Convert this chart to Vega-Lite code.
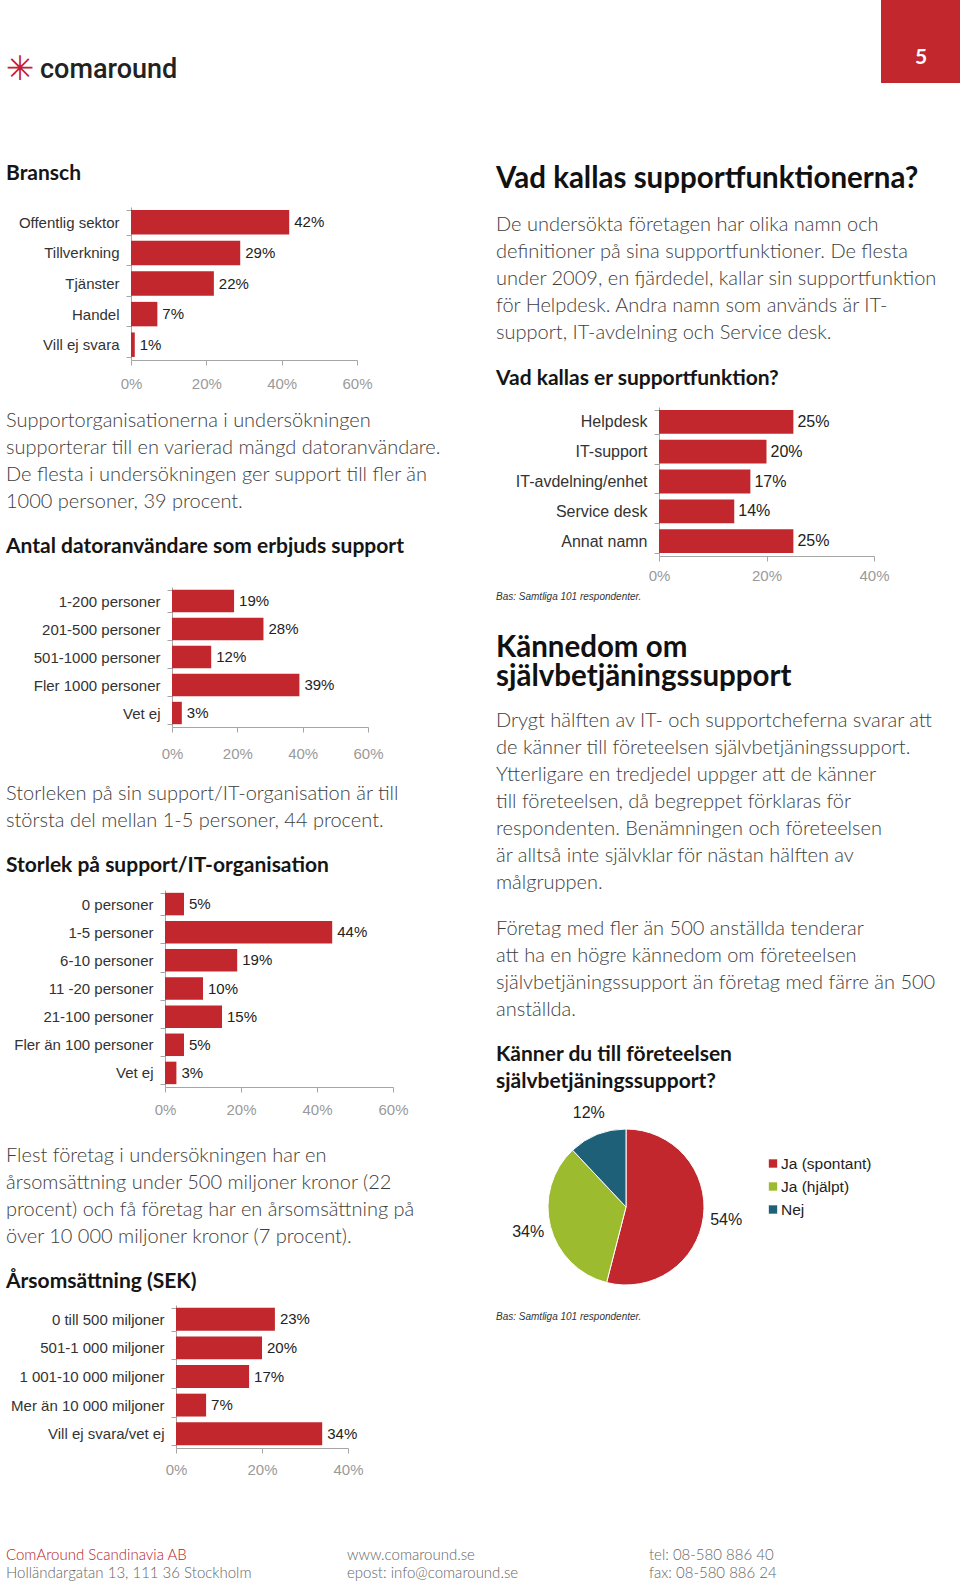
{
  "$schema": "https://vega.github.io/schema/vega-lite/v6.json",
  "padding": {"left": 5, "top": 0, "right": 0, "bottom": 0},
  "background": "white",
  "config": {
    "view": {"stroke": null},
    "axis": {"grid": false, "labelFont": "Liberation Sans", "domainColor": "#a6a6a6", "tickColor": "#a6a6a6", "tickSize": 5, "labelOverlap": false},
    "axisX": {"labelColor": "#9a9a9a", "labelFontSize": 15, "labelFlush": false, "format": ".0%"},
    "axisY": {"labelColor": "#333333", "labelFontSize": 15, "tickBand": "extent", "labelPadding": 7, "labelLimit": 400},
    "bar": {"color": "#C1272D"},
    "text": {"font": "Liberation Sans", "fontSize": 15, "color": "#222222"},
    "title": {"anchor": "start", "frame": "group", "orient": "bottom", "offset": 0}
  },
  "datasets": {
    "tom": [{}],
    "bransch": [
      {"kategori": "Offentlig sektor", "andel": 0.42},
      {"kategori": "Tillverkning", "andel": 0.29},
      {"kategori": "Tjänster", "andel": 0.22},
      {"kategori": "Handel", "andel": 0.07},
      {"kategori": "Vill ej svara", "andel": 0.01}
    ],
    "datoranvandare": [
      {"kategori": "1-200 personer", "andel": 0.19},
      {"kategori": "201-500 personer", "andel": 0.28},
      {"kategori": "501-1000 personer", "andel": 0.12},
      {"kategori": "Fler 1000 personer", "andel": 0.39},
      {"kategori": "Vet ej", "andel": 0.03}
    ],
    "storlek": [
      {"kategori": "0 personer", "andel": 0.05},
      {"kategori": "1-5 personer", "andel": 0.44},
      {"kategori": "6-10 personer", "andel": 0.19},
      {"kategori": "11 -20 personer", "andel": 0.10},
      {"kategori": "21-100 personer", "andel": 0.15},
      {"kategori": "Fler än 100 personer", "andel": 0.05},
      {"kategori": "Vet ej", "andel": 0.03}
    ],
    "omsattning": [
      {"kategori": "0 till 500 miljoner", "andel": 0.23},
      {"kategori": "501-1 000 miljoner", "andel": 0.20},
      {"kategori": "1 001-10 000 miljoner", "andel": 0.17},
      {"kategori": "Mer än 10 000 miljoner", "andel": 0.07},
      {"kategori": "Vill ej svara/vet ej", "andel": 0.34}
    ],
    "namn": [
      {"kategori": "Helpdesk", "andel": 0.25},
      {"kategori": "IT-support", "andel": 0.20},
      {"kategori": "IT-avdelning/enhet", "andel": 0.17},
      {"kategori": "Service desk", "andel": 0.14},
      {"kategori": "Annat namn", "andel": 0.25}
    ],
    "kannedom": [
      {"svar": "Ja (spontant)", "andel": 0.54, "ordning": 1},
      {"svar": "Ja (hjälpt)", "andel": 0.34, "ordning": 2},
      {"svar": "Nej", "andel": 0.12, "ordning": 3}
    ],
    "logo": [{"ikon": "✳", "namn": "comaround", "sida": "5"}]
  },
  "spacing": 0,
  "vconcat": [
    {
      "bounds": "flush",
      "spacing": 847,
      "hconcat": [
        {
          "width": 28, "height": 140,
          "data": {"name": "logo"},
          "layer": [
            {"mark": {"type": "text", "color": "#C8202E", "fontSize": 34, "font": "DejaVu Sans"}, "encoding": {"text": {"field": "ikon"}}},
            {"mark": {"type": "text", "align": "left", "dx": 20, "color": "#222222", "fontSize": 27, "font": "Roboto", "fontWeight": 500}, "encoding": {"text": {"field": "namn"}}}
          ]
        },
        {
          "width": 80, "height": 83,
          "view": {"fill": "#C1272D"},
          "data": {"name": "logo"},
          "mark": {"type": "text", "color": "white", "fontSize": 21, "font": "Lato", "fontWeight": "bold", "dy": 16},
          "encoding": {"text": {"field": "sida"}}
        }
      ]
    },
    {
      "spacing": 45,
      "hconcat": [
        {
          "spacing": 0,
          "vconcat": [
            {"width": 445, "height": 19, "data": {"name": "tom"}, "mark": {"type": "rect", "opacity": 0},
             "title": {"text": "Bransch", "font": "Lato", "fontSize": 21, "fontWeight": "bold", "color": "#151515"}},
            {"width": 1, "height": 16, "data": {"name": "tom"}, "mark": {"type": "rect", "opacity": 0}},
            {
              "bounds": "flush", "spacing": 0,
              "hconcat": [
                {"width": 125, "height": 1, "data": {"name": "tom"}, "mark": {"type": "rect", "opacity": 0}},
                {
                  "width": 226, "height": 153,
                  "data": {"name": "bransch"},
                  "encoding": {
                    "y": {"field": "kategori", "type": "nominal", "sort": null, "title": null, "scale": {"paddingInner": 0.2, "paddingOuter": 0.1}},
                    "x": {"field": "andel", "type": "quantitative", "title": null, "scale": {"domain": [0, 0.6]}, "axis": {"values": [0, 0.2, 0.4, 0.6], "labelPadding": 11}}
                  },
                  "layer": [
                    {"mark": {"type": "bar"}},
                    {"mark": {"type": "text", "align": "left", "dx": 5}, "encoding": {"text": {"field": "andel", "type": "quantitative", "format": ".0%"}}}
                  ]
                }
              ]
            },
            {"width": 445, "height": 16, "data": {"name": "tom"}, "mark": {"type": "rect", "opacity": 0},
             "title": {
               "text": ["Supportorganisationerna i undersökningen", "supporterar till en varierad mängd datoranvändare.", "De flesta i undersökningen ger support till fler än", "1000 personer, 39 procent."],
               "subtitle": "Antal datoranvändare som erbjuds support",
               "font": "Lato", "fontSize": 20, "fontWeight": 300, "color": "#3d3d3d", "lineHeight": 27,
               "subtitleFont": "Lato", "subtitleFontSize": 21, "subtitleFontWeight": "bold", "subtitleColor": "#151515", "subtitlePadding": 24}},
            {"width": 1, "height": 23, "data": {"name": "tom"}, "mark": {"type": "rect", "opacity": 0}},
            {
              "bounds": "flush", "spacing": 0,
              "hconcat": [
                {"width": 166, "height": 1, "data": {"name": "tom"}, "mark": {"type": "rect", "opacity": 0}},
                {
                  "width": 196, "height": 140,
                  "data": {"name": "datoranvandare"},
                  "encoding": {
                    "y": {"field": "kategori", "type": "nominal", "sort": null, "title": null, "scale": {"paddingInner": 0.2, "paddingOuter": 0.1}},
                    "x": {"field": "andel", "type": "quantitative", "title": null, "scale": {"domain": [0, 0.6]}, "axis": {"values": [0, 0.2, 0.4, 0.6], "labelPadding": 14}}
                  },
                  "layer": [
                    {"mark": {"type": "bar"}},
                    {"mark": {"type": "text", "align": "left", "dx": 5}, "encoding": {"text": {"field": "andel", "type": "quantitative", "format": ".0%"}}}
                  ]
                }
              ]
            },
            {"width": 445, "height": 19, "data": {"name": "tom"}, "mark": {"type": "rect", "opacity": 0},
             "title": {
               "text": ["Storleken på sin support/IT-organisation är till", "största del mellan 1-5 personer, 44 procent."],
               "subtitle": "Storlek på support/IT-organisation",
               "font": "Lato", "fontSize": 20, "fontWeight": 300, "color": "#3d3d3d", "lineHeight": 27,
               "subtitleFont": "Lato", "subtitleFontSize": 21, "subtitleFontWeight": "bold", "subtitleColor": "#151515", "subtitlePadding": 24}},
            {"width": 1, "height": 7, "data": {"name": "tom"}, "mark": {"type": "rect", "opacity": 0}},
            {
              "bounds": "flush", "spacing": 0,
              "hconcat": [
                {"width": 159, "height": 1, "data": {"name": "tom"}, "mark": {"type": "rect", "opacity": 0}},
                {
                  "width": 228, "height": 197,
                  "data": {"name": "storlek"},
                  "encoding": {
                    "y": {"field": "kategori", "type": "nominal", "sort": null, "title": null, "scale": {"paddingInner": 0.2, "paddingOuter": 0.1}},
                    "x": {"field": "andel", "type": "quantitative", "title": null, "scale": {"domain": [0, 0.6]}, "axis": {"values": [0, 0.2, 0.4, 0.6], "labelPadding": 10}}
                  },
                  "layer": [
                    {"mark": {"type": "bar"}},
                    {"mark": {"type": "text", "align": "left", "dx": 5}, "encoding": {"text": {"field": "andel", "type": "quantitative", "format": ".0%"}}}
                  ]
                }
              ]
            },
            {"width": 445, "height": 25, "data": {"name": "tom"}, "mark": {"type": "rect", "opacity": 0},
             "title": {
               "text": ["Flest företag i undersökningen har en", "årsomsättning under 500 miljoner kronor (22", "procent) och få företag har en årsomsättning på", "över 10 000 miljoner kronor (7 procent)."],
               "subtitle": "Årsomsättning (SEK)",
               "font": "Lato", "fontSize": 20, "fontWeight": 300, "color": "#3d3d3d", "lineHeight": 27,
               "subtitleFont": "Lato", "subtitleFontSize": 21, "subtitleFontWeight": "bold", "subtitleColor": "#151515", "subtitlePadding": 24}},
            {"width": 1, "height": 6, "data": {"name": "tom"}, "mark": {"type": "rect", "opacity": 0}},
            {
              "bounds": "flush", "spacing": 0,
              "hconcat": [
                {"width": 170, "height": 1, "data": {"name": "tom"}, "mark": {"type": "rect", "opacity": 0}},
                {
                  "width": 172, "height": 143,
                  "data": {"name": "omsattning"},
                  "encoding": {
                    "y": {"field": "kategori", "type": "nominal", "sort": null, "title": null, "scale": {"paddingInner": 0.2, "paddingOuter": 0.1}},
                    "x": {"field": "andel", "type": "quantitative", "title": null, "scale": {"domain": [0, 0.4]}, "axis": {"values": [0, 0.2, 0.4], "labelPadding": 9}}
                  },
                  "layer": [
                    {"mark": {"type": "bar"}},
                    {"mark": {"type": "text", "align": "left", "dx": 5}, "encoding": {"text": {"field": "andel", "type": "quantitative", "format": ".0%"}}}
                  ]
                }
              ]
            }
          ]
        },
        {
          "spacing": 0,
          "vconcat": [
            {"width": 1, "height": 21, "data": {"name": "tom"}, "mark": {"type": "rect", "opacity": 0},
             "title": {
               "text": "Vad kallas supportfunktionerna?",
               "subtitle": ["De undersökta företagen har olika namn och", "definitioner på sina supportfunktioner. De flesta", "under 2009, en fjärdedel, kallar sin supportfunktion", "för Helpdesk. Andra namn som används är IT-", "support, IT-avdelning och Service desk."],
               "font": "Lato", "fontSize": 29.5, "fontWeight": "bold", "color": "#111111",
               "subtitleFont": "Lato", "subtitleFontSize": 20, "subtitleFontWeight": 300, "subtitleColor": "#3d3d3d", "subtitleLineHeight": 27, "subtitlePadding": 20}},
            {"width": 1, "height": 21, "data": {"name": "tom"}, "mark": {"type": "rect", "opacity": 0},
             "title": {"text": "Vad kallas er supportfunktion?", "font": "Lato", "fontSize": 21, "fontWeight": "bold", "color": "#151515"}},
            {"width": 1, "height": 10, "data": {"name": "tom"}, "mark": {"type": "rect", "opacity": 0}},
            {
              "bounds": "flush", "spacing": 0,
              "hconcat": [
                {"width": 163, "height": 1, "data": {"name": "tom"}, "mark": {"type": "rect", "opacity": 0}},
                {
                  "width": 215, "height": 149,
                  "data": {"name": "namn"},
                  "encoding": {
                    "y": {"field": "kategori", "type": "nominal", "sort": null, "title": null, "scale": {"paddingInner": 0.2, "paddingOuter": 0.1}, "axis": {"labelFontSize": 16}},
                    "x": {"field": "andel", "type": "quantitative", "title": null, "scale": {"domain": [0, 0.4]}, "axis": {"values": [0, 0.2, 0.4], "labelPadding": 7}}
                  },
                  "layer": [
                    {"mark": {"type": "bar"}},
                    {"mark": {"type": "text", "align": "left", "dx": 4, "fontSize": 16}, "encoding": {"text": {"field": "andel", "type": "quantitative", "format": ".0%"}}}
                  ]
                }
              ]
            },
            {"width": 1, "height": 5, "data": {"name": "tom"}, "mark": {"type": "rect", "opacity": 0},
             "title": {"text": "Bas: Samtliga 101 respondenter.", "font": "'Liberation Sans Narrow', 'Liberation Sans', sans-serif", "fontSize": 10, "fontStyle": "italic", "fontWeight": "normal", "color": "#333333"}},
            {"width": 1, "height": 28, "data": {"name": "tom"}, "mark": {"type": "rect", "opacity": 0},
             "title": {
               "text": ["Kännedom om", "självbetjäningssupport"],
               "subtitle": ["Drygt hälften av IT- och supportcheferna svarar att", "de känner till företeelsen självbetjäningssupport.", "Ytterligare en tredjedel uppger att de känner", "till företeelsen, då begreppet förklaras för", "respondenten. Benämningen och företeelsen", "är alltså inte självklar för nästan hälften av", "målgruppen."],
               "font": "Lato", "fontSize": 29.5, "fontWeight": "bold", "color": "#111111", "lineHeight": 28.5,
               "subtitleFont": "Lato", "subtitleFontSize": 20, "subtitleFontWeight": 300, "subtitleColor": "#3d3d3d", "subtitleLineHeight": 27, "subtitlePadding": 19}},
            {"width": 1, "height": 22, "data": {"name": "tom"}, "mark": {"type": "rect", "opacity": 0},
             "title": {
               "text": ["Företag med fler än 500 anställda tenderar", "att ha en högre kännedom om företeelsen", "självbetjäningssupport än företag med färre än 500", "anställda."],
               "subtitle": ["Känner du till företeelsen", "självbetjäningssupport?"],
               "font": "Lato", "fontSize": 20, "fontWeight": 300, "color": "#3d3d3d", "lineHeight": 27,
               "subtitleFont": "Lato", "subtitleFontSize": 21, "subtitleFontWeight": "bold", "subtitleColor": "#151515", "subtitleLineHeight": 27, "subtitlePadding": 24}},
            {"width": 1, "height": 13, "data": {"name": "tom"}, "mark": {"type": "rect", "opacity": 0}},
            {
              "bounds": "flush", "spacing": 0,
              "hconcat": [
                {"width": 50, "height": 1, "data": {"name": "tom"}, "mark": {"type": "rect", "opacity": 0}},
                {
                  "width": 160, "height": 200,
                  "data": {"name": "kannedom"},
                  "encoding": {
                    "theta": {"field": "andel", "type": "quantitative", "stack": true},
                    "order": {"field": "ordning", "type": "quantitative"}
                  },
                  "layer": [
                    {
                      "mark": {"type": "arc", "outerRadius": 78, "stroke": "white", "strokeWidth": 1},
                      "encoding": {
                        "color": {"field": "svar", "type": "nominal", "sort": null, "legend": null,
                          "scale": {"domain": ["Ja (spontant)", "Ja (hjälpt)", "Nej"], "range": ["#C1272D", "#9DBB2F", "#1F6079"]}}
                      }
                    },
                    {"mark": {"type": "text", "radius": 101, "fontSize": 16, "color": "#222222"}, "encoding": {"text": {"field": "andel", "type": "quantitative", "format": ".0%"}, "detail": {"field": "svar", "type": "nominal"}}}
                  ]
                },
                {
                  "spacing": 0,
                  "vconcat": [
                    {"width": 1, "height": 45, "data": {"name": "tom"}, "mark": {"type": "rect", "opacity": 0}},
                    {
                      "width": 134, "height": 69,
                      "data": {"name": "kannedom"},
                      "encoding": {
                        "y": {"field": "svar", "type": "nominal", "sort": null, "axis": null, "scale": {"type": "point", "padding": 0.5}}
                      },
                      "layer": [
                        {"mark": {"type": "square", "size": 70, "opacity": 1},
                         "encoding": {"color": {"field": "svar", "type": "nominal", "sort": null, "legend": null,
                           "scale": {"domain": ["Ja (spontant)", "Ja (hjälpt)", "Nej"], "range": ["#C1272D", "#9DBB2F", "#1F6079"]}}}},
                        {"mark": {"type": "text", "align": "left", "dx": 8, "fontSize": 15.5, "color": "#222222"},
                         "encoding": {"text": {"field": "svar", "type": "nominal"}}}
                      ]
                    }
                  ]
                }
              ]
            },
            {"width": 1, "height": 1, "data": {"name": "tom"}, "mark": {"type": "rect", "opacity": 0},
             "title": {"text": "Bas: Samtliga 101 respondenter.", "font": "'Liberation Sans Narrow', 'Liberation Sans', sans-serif", "fontSize": 10, "fontStyle": "italic", "fontWeight": "normal", "color": "#333333"}}
          ]
        }
      ]
    },
    {
      "bounds": "flush",
      "spacing": 0,
      "hconcat": [
        {"width": 341, "height": 67, "data": {"name": "tom"}, "mark": {"type": "rect", "opacity": 0},
         "title": {"text": "ComAround Scandinavia AB", "subtitle": "Holländargatan 13, 111 36 Stockholm", "font": "Lato", "fontSize": 15, "fontWeight": 300, "color": "#B5202E", "subtitleFont": "Lato", "subtitleFontSize": 15, "subtitleFontWeight": 300, "subtitleColor": "#666666", "subtitlePadding": 3}},
        {"width": 302, "height": 67, "data": {"name": "tom"}, "mark": {"type": "rect", "opacity": 0},
         "title": {"text": "www.comaround.se", "subtitle": "epost: info@comaround.se", "font": "Lato", "fontSize": 15, "fontWeight": 300, "color": "#666666", "subtitleFont": "Lato", "subtitleFontSize": 15, "subtitleFontWeight": 300, "subtitleColor": "#666666", "subtitlePadding": 3}},
        {"width": 100, "height": 67, "data": {"name": "tom"}, "mark": {"type": "rect", "opacity": 0},
         "title": {"text": "tel: 08-580 886 40", "subtitle": "fax: 08-580 886 24", "font": "Lato", "fontSize": 15, "fontWeight": 300, "color": "#666666", "subtitleFont": "Lato", "subtitleFontSize": 15, "subtitleFontWeight": 300, "subtitleColor": "#666666", "subtitlePadding": 3}}
      ]
    }
  ]
}
